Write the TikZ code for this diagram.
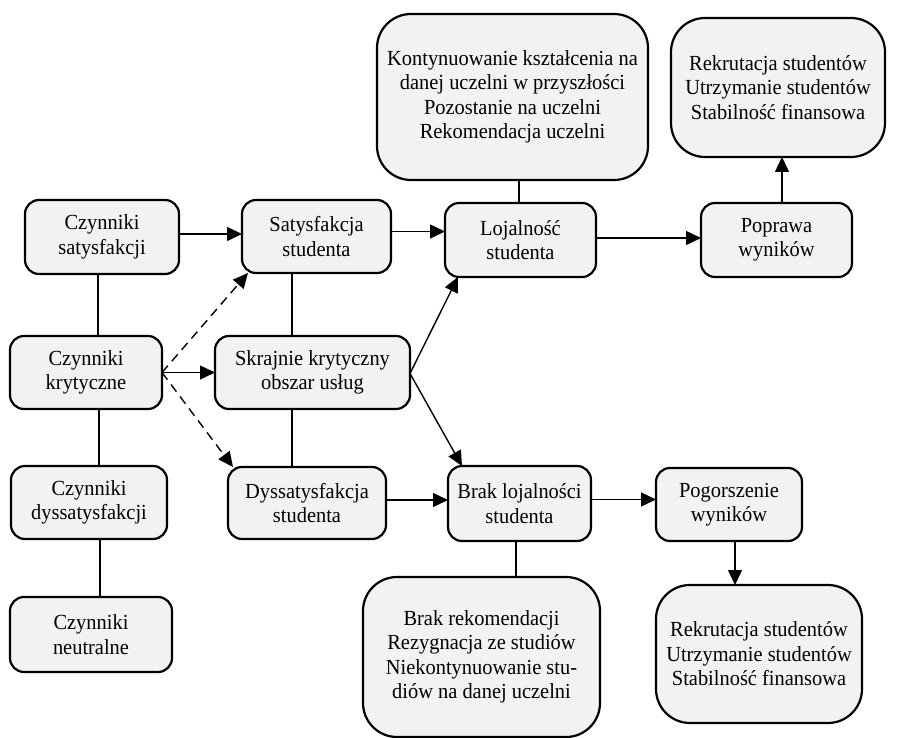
\documentclass[tikz,border=0pt]{standalone}
\usepackage{fontspec}
\setmainfont{Liberation Serif}[FakeStretch=0.95]
\usetikzlibrary{arrows.meta,calc}
\definecolor{boxfill}{HTML}{F2F2F2}
\begin{document}
\begin{tikzpicture}[x=1pt,y=-1pt,
  box/.style={draw, line width=2.2pt, fill=boxfill, rounded corners=14pt,
    inner sep=0pt, outer sep=0pt, align=center,
    font=\fontsize{21.5}{24.5}\selectfont},
  bigbox/.style={box, rounded corners=34pt},
  link/.style={line width=1.4pt},
  arr/.style={link, -{Triangle[length=15pt,width=14pt]}},
  darr/.style={arr, dash pattern=on 9pt off 6pt}]
\useasboundingbox (0,0) rectangle (922,738);

% left column
\node[box, minimum width=154pt, minimum height=74pt] (cs) at (102,237) {Czynniki\\satysfakcji};
\node[box, minimum width=152pt, minimum height=73pt] (ck) at (86,372.5) {Czynniki\\krytyczne};
\node[box, minimum width=156pt, minimum height=73pt] (cd) at (89,502.5) {Czynniki\\dyssatysfakcji};
\node[box, minimum width=162pt, minimum height=75pt] (cn) at (91,634.5) {Czynniki\\neutralne};

% middle column
\node[box, minimum width=149pt, minimum height=73pt] (ss) at (316.5,236.5) {Satysfakcja\\studenta};
\node[box, minimum width=195pt, minimum height=73pt] (sk) at (312.5,372.5) {Skrajnie krytyczny\\obszar usług};
\node[box, minimum width=158pt, minimum height=72pt] (ds) at (307,503) {Dyssatysfakcja\\studenta};

% loyalty column
\node[bigbox, minimum width=271pt, minimum height=166pt] (kt) at (512.5,97) {Kontynuowanie kształcenia na\\danej uczelni w przyszłości\\Pozostanie na uczelni\\Rekomendacja uczelni};
\node[box, minimum width=151pt, minimum height=74pt] (lo) at (520.5,240) {Lojalność\\studenta};
\node[box, minimum width=143pt, minimum height=75pt] (bl) at (519.5,503.5) {Brak lojalności\\studenta};
\node[bigbox, minimum width=237pt, minimum height=160pt] (br) at (481.5,657) {Brak rekomendacji\\Rezygnacja ze studiów\\Niekontynuowanie stu-\\diów na danej uczelni};

% results column
\node[bigbox, minimum width=214pt, minimum height=139pt] (tr) at (778,87.5) {Rekrutacja studentów\\Utrzymanie studentów\\Stabilność finansowa};
\node[box, minimum width=151pt, minimum height=74pt] (pw) at (776.5,240) {Poprawa\\wyników};
\node[box, minimum width=146pt, minimum height=73pt] (pg) at (729,504.5) {Pogorszenie\\wyników};
\node[bigbox, minimum width=206pt, minimum height=138pt] (bb) at (759,654) {Rekrutacja studentów\\Utrzymanie studentów\\Stabilność finansowa};

% plain links between factor boxes
\draw[link] ([xshift=-4pt]cs.south) -- ([xshift=-4pt]cs.south |- ck.north);
\draw[link] ([xshift=13pt]ck.south) -- ([xshift=13pt]ck.south |- cd.north);
\draw[link] ([xshift=11pt]cd.south) -- ([xshift=11pt]cd.south |- cn.north);
\draw[link] ([xshift=-24.5pt]ss.south) -- ([xshift=-24.5pt]ss.south |- sk.north);
\draw[link] ([xshift=-20.5pt]sk.south) -- ([xshift=-20.5pt]sk.south |- ds.north);
\draw[link] ([xshift=-1.5pt]lo.north) -- ([xshift=-1.5pt]lo.north |- kt.south);
\draw[link] ([xshift=-3.5pt]bl.south) -- ([xshift=-3.5pt]bl.south |- br.north);

% arrows
\draw[arr] ([yshift=3pt]cs.east) -- ([yshift=3pt]cs.east -| ss.west);
\draw[arr] ([yshift=5pt]ss.east) -- ([yshift=5pt]ss.east -| lo.west);
\draw[arr] (ck.east) -- (sk.west);
\draw[darr] (ck.east) -- ([xshift=6pt]ss.south west);
\draw[darr] (ck.east) -- ([xshift=5pt]ds.north west);
\draw[arr] ([yshift=-1pt]sk.east) -- ([xshift=13pt]lo.south west);
\draw[arr] ([yshift=-1pt]sk.east) -- ([xshift=14pt]bl.north west);
\draw[arr] ([yshift=3pt]ds.east) -- ([yshift=3pt]ds.east -| bl.west);
\draw[arr] ([yshift=2pt]lo.east) -- ([yshift=2pt]lo.east -| pw.west);
\draw[arr] ([yshift=4pt]bl.east) -- ([yshift=4pt]bl.east -| pg.west);
\draw[arr] ([xshift=5.5pt]pw.north) -- ([xshift=5.5pt]pw.north |- tr.south);
\draw[arr] ([xshift=6pt]pg.south) -- ([xshift=6pt]pg.south |- bb.north);
\end{tikzpicture}
\end{document}
